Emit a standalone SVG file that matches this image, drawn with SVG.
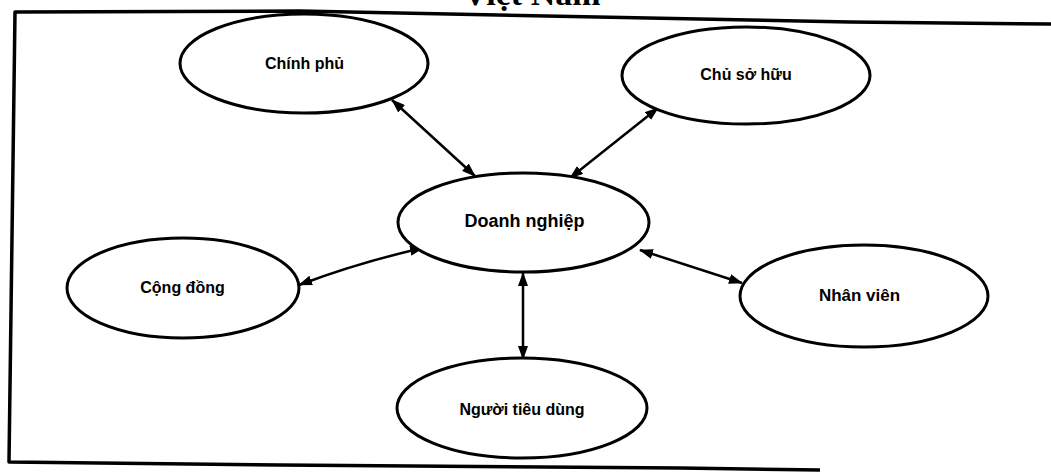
<svg xmlns="http://www.w3.org/2000/svg" width="1051" height="472" viewBox="0 0 1051 472">
  <style>
    .node { fill: #ffffff; stroke: #000000; stroke-width: 3; }
    .lbl { font-family: "Liberation Sans", Arial, sans-serif; font-weight: bold; fill: #000000; text-anchor: middle; }
    .conn { fill: none; stroke: #000000; stroke-width: 2.5; marker-start: url(#arr); marker-end: url(#arr); }
    .frame { fill: none; stroke: #000000; stroke-width: 3.5; stroke-linejoin: round; }
  </style>
  <defs>
    <marker id="arr" viewBox="0 0 14 10" refX="13" refY="5" markerWidth="14" markerHeight="10" markerUnits="userSpaceOnUse" orient="auto-start-reverse">
      <path d="M0,0 L14,5 L0,10 z" fill="#000000"/>
    </marker>
  </defs>
  <rect width="1051" height="472" fill="#ffffff"/>
  <text x="463" y="5" font-family="'Liberation Serif', 'Times New Roman', serif" font-weight="bold" font-size="34" fill="#000000">Việt Nam</text>
  <g id="frame">
    <path class="frame" d="M1051,24 L850,22 L750,20 L300,11 L15,12 L9,462 L280,465 L680,468 L820,470"/>
  </g>
  <g id="connectors">
    <path class="conn" d="M392,100 L475,176"/>
    <path class="conn" d="M658,108 L570,178"/>
    <path class="conn" d="M299,285 Q360,262 423,248"/>
    <path class="conn" d="M640,250 L742,283"/>
    <path class="conn" d="M523,273 L523,359"/>
  </g>
  <g id="chinh-phu">
    <ellipse class="node" cx="304" cy="63.5" rx="124" ry="49.5"/>
    <text class="lbl" x="304.5" y="69" font-size="16">Chính phủ</text>
  </g>
  <g id="chu-so-huu">
    <ellipse class="node" cx="746" cy="75.5" rx="124" ry="48.5"/>
    <text class="lbl" x="746" y="80" font-size="16">Chủ sở hữu</text>
  </g>
  <g id="doanh-nghiep">
    <ellipse class="node" cx="523.5" cy="222.5" rx="125.5" ry="49.5"/>
    <text class="lbl" x="524.5" y="227" font-size="18">Doanh nghiệp</text>
  </g>
  <g id="cong-dong">
    <ellipse class="node" cx="183" cy="288" rx="116" ry="50"/>
    <text class="lbl" x="182.5" y="293" font-size="16">Cộng đồng</text>
  </g>
  <g id="nhan-vien">
    <ellipse class="node" cx="864" cy="296" rx="124" ry="51"/>
    <text class="lbl" x="859.5" y="301" font-size="17">Nhân viên</text>
  </g>
  <g id="nguoi-tieu-dung">
    <ellipse class="node" cx="522" cy="408" rx="125" ry="50"/>
    <text class="lbl" x="522" y="415" font-size="16">Người tiêu dùng</text>
  </g>
</svg>
